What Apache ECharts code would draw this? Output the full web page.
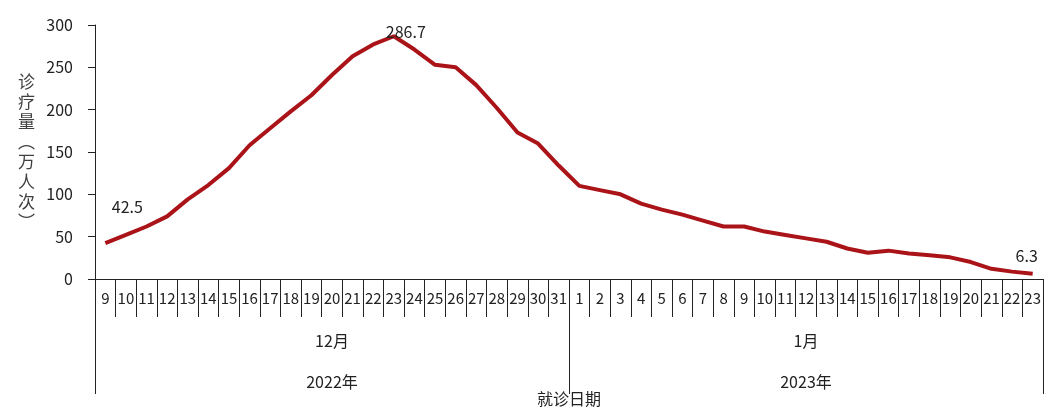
<!DOCTYPE html>
<html lang="zh">
<head>
    <meta charset="UTF-8">
    <title>诊疗量</title>
    <script src="https://cdn.jsdelivr.net/npm/echarts@6.0.0/dist/echarts.min.js"></script>
    <style>
        html, body { margin: 0; padding: 0; background: #fff; }
        #main { width: 1059px; height: 415px; }
    </style>
</head>
<body>
<div id="main"></div>
<script>
    // 日期（12月9日 - 1月23日）
    const days = ['9','10','11','12','13','14','15','16','17','18','19','20','21','22','23','24','25','26','27','28','29','30','31',
                  '1','2','3','4','5','6','7','8','9','10','11','12','13','14','15','16','17','18','19','20','21','22','23'];
    const months = ['12月', '1月'];
    const years = ['2022年', '2023年'];
    // 诊疗量（万人次）
    const visits = [42.5, 52, 62, 74, 94, 111, 131, 158, 178, 198, 217, 241, 263, 277, 286.7, 271, 253, 250, 229, 202, 173, 160, 134,
                    110, 105, 100, 89, 82, 76, 69, 62, 62, 56, 52, 48, 44, 36, 31, 33.5, 30, 28, 25.6, 20, 12, 8.7, 6.3];
    // 需要标注数值的点及标签偏移
    const labelIdx = [0, 14, 45];
    const labelOffset = [[22, -23], [12, 9], [-6, -5]];

    const chart = echarts.init(document.getElementById('main'));
    const font = '"Liberation Sans Narrow", "Noto Sans CJK SC", sans-serif';
    const cjk = '"Noto Sans CJK SC", sans-serif';

    const seriesData = visits.map((v, i) => {
        const k = labelIdx.indexOf(i);
        if (k < 0) return v;
        return { value: v, label: { show: true, offset: labelOffset[k] } };
    });

    const option = {
        animation: false,
        grid: { left: 95, right: 16, top: 25, bottom: 136 },
        xAxis: [
            {
                type: 'category',
                data: days,
                boundaryGap: true,
                axisLine: { show: true, lineStyle: { color: '#222', width: 1 } },
                axisTick: { show: true, interval: 0, length: 38, lineStyle: { color: '#222' } },
                axisLabel: { interval: 0, margin: 12, fontSize: 15, color: '#222', fontFamily: font },
                name: '就诊日期',
                nameLocation: 'middle',
                nameGap: 112,
                nameTextStyle: { fontSize: 16, color: '#222', fontFamily: cjk }
            },
            {
                type: 'category',
                data: months,
                position: 'bottom',
                gridIndex: 0,
                axisLine: { show: false },
                axisTick: { show: true, interval: 0, length: 115, lineStyle: { color: '#222' } },
                axisLabel: { interval: 0, margin: 54, fontSize: 16, color: '#222', fontFamily: cjk }
            },
            {
                type: 'category',
                data: years,
                position: 'bottom',
                gridIndex: 0,
                axisLine: { show: false },
                axisTick: { show: false },
                axisLabel: { interval: 0, margin: 95, fontSize: 16, color: '#222', fontFamily: cjk }
            }
        ],
        yAxis: {
            type: 'value',
            min: 0,
            max: 300,
            interval: 50,
            axisLine: { show: true, lineStyle: { color: '#222' } },
            axisTick: { show: true, length: 7, lineStyle: { color: '#222' } },
            axisLabel: { margin: 22, fontSize: 16, color: '#222', fontFamily: font },
            splitLine: { show: false },
            name: '诊\n疗\n量\n︵\n万\n人\n次\n︶',
            nameLocation: 'middle',
            nameRotate: 0,
            nameGap: 60,
            nameTextStyle: { fontSize: 17, lineHeight: 20, color: '#404040', fontFamily: cjk }
        },
        series: [
            {
                type: 'line',
                data: seriesData,
                xAxisIndex: 0,
                symbol: 'circle',
                symbolSize: 0,
                showSymbol: true,
                itemStyle: { color: '#AA1418' },
                lineStyle: { color: '#AA1418', width: 4 },
                label: { show: false, position: 'top', fontSize: 16, color: '#222', fontFamily: font }
            }
        ]
    };

    chart.setOption(option);
</script>
</body>
</html>
